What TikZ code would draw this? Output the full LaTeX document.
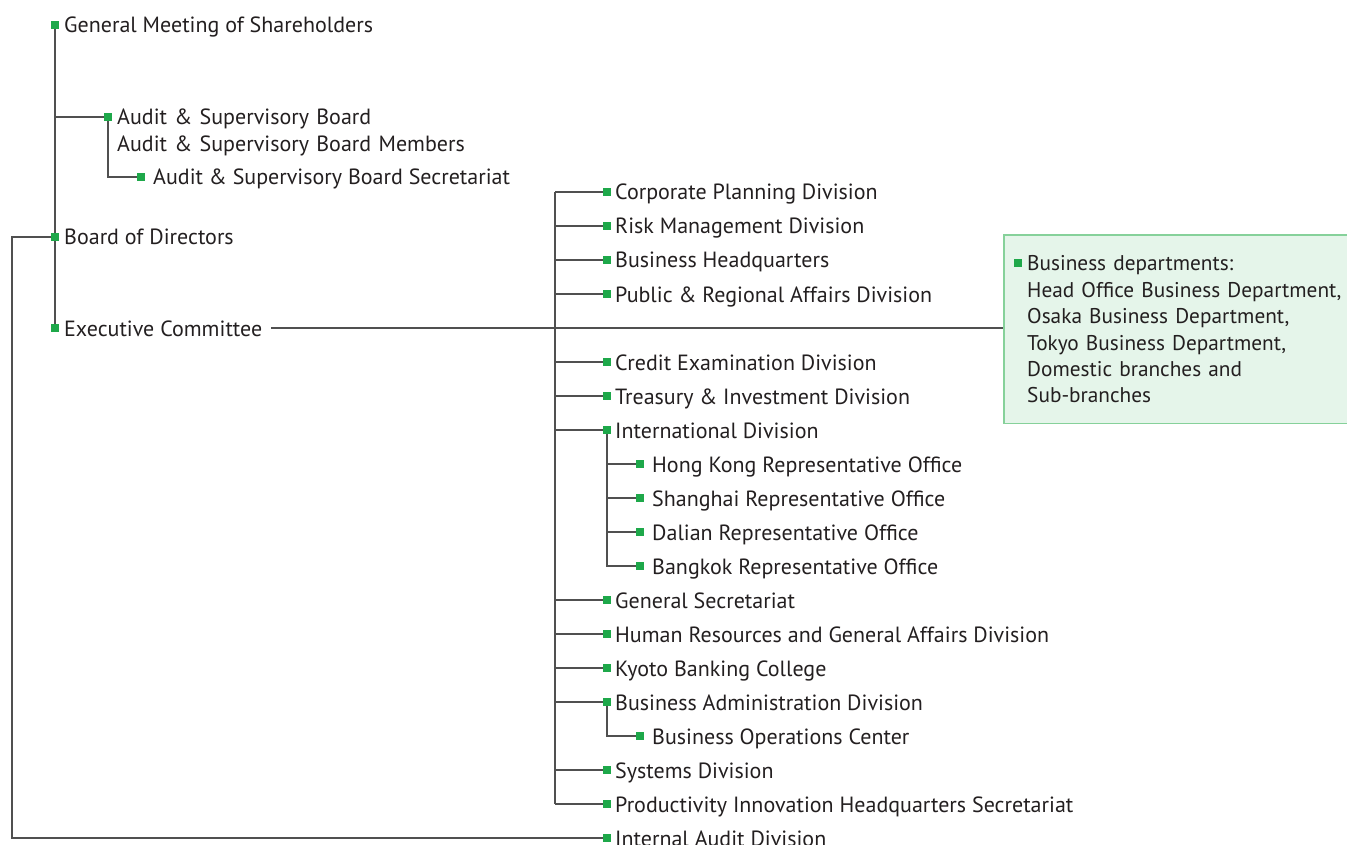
\documentclass[tikz,border=0pt]{standalone}
\usepackage{fontspec}
\setmainfont{PT Sans}
\usetikzlibrary{backgrounds}
\definecolor{sqgreen}{HTML}{1EA84A}
\definecolor{linegray}{HTML}{505050}
\definecolor{txt}{HTML}{231F20}
\definecolor{boxfill}{HTML}{E5F5EA}
\definecolor{boxline}{HTML}{86D19A}
\begin{document}
\begin{tikzpicture}[x=1pt,y=-1pt,
  sq/.style={fill=sqgreen,draw=none,minimum size=8.5pt,inner sep=0pt},
  lbl/.style={anchor=base west,inner sep=0pt,text=txt,font=\fontsize{22}{26.4}\selectfont},
  conn/.style={draw=linegray,line width=1.3pt}]
\useasboundingbox (0,0) rectangle (1347,845);
% box
\node[fill=boxfill,draw=none,anchor=north west,minimum width=350pt,minimum height=188pt,inner sep=0pt] (bx) at (1004,235) {};
\draw[boxline,line width=1.4pt] (bx.north east) -- (bx.north west) -- (bx.south west) -- (bx.south east);
\node[sq] (sBX) at (1018,263) {};
\node[lbl,text width=315pt,align=left,font=\fontsize{21.3}{26.4}\selectfont] (tBX) at (1027,271) {Business departments:\\Head Office Business Department,\\Osaka Business Department,\\Tokyo Business Department,\\Domestic branches and\\Sub-branches};
% left column
\node[sq] (sGM) at (55,25) {};
\node[lbl] (tGM) at (64,33) {General Meeting of Shareholders};
\node[sq] (sAB) at (108,117) {};
\node[lbl,text width=400pt,align=left] (tAB) at (117,125) {Audit \& Supervisory Board\\Audit \& Supervisory Board Members};
\node[sq] (sABS) at (141,177) {};
\node[lbl] (tABS) at (153,185) {Audit \& Supervisory Board Secretariat};
\node[sq] (sBD) at (55,237) {};
\node[lbl] (tBD) at (64,245) {Board of Directors};
\node[sq] (sEC) at (55,328) {};
\node[lbl] (tEC) at (64,336) {Executive Committee};
% divisions
\node[sq] (sCP) at (607,192) {};
\node[lbl] (tCP) at (615,200) {Corporate Planning Division};
\node[sq] (sRM) at (607,226) {};
\node[lbl] (tRM) at (615,234) {Risk Management Division};
\node[sq] (sBH) at (607,260) {};
\node[lbl] (tBH) at (615,268) {Business Headquarters};
\node[sq] (sPR) at (607,294) {};
\node[lbl] (tPR) at (615,302) {Public \& Regional Affairs Division};
\node[sq] (sCE) at (607,362) {};
\node[lbl] (tCE) at (615,370) {Credit Examination Division};
\node[sq] (sTI) at (607,396) {};
\node[lbl] (tTI) at (615,404) {Treasury \& Investment Division};
\node[sq] (sID) at (607,430) {};
\node[lbl] (tID) at (615,438) {International Division};
\node[sq] (sHK) at (640,464) {};
\node[lbl] (tHK) at (652,472) {Hong Kong Representative Office};
\node[sq] (sSH) at (640,498) {};
\node[lbl] (tSH) at (652,506) {Shanghai Representative Office};
\node[sq] (sDL) at (640,532) {};
\node[lbl] (tDL) at (652,540) {Dalian Representative Office};
\node[sq] (sBK) at (640,566) {};
\node[lbl] (tBK) at (652,574) {Bangkok Representative Office};
\node[sq] (sGS) at (607,600) {};
\node[lbl] (tGS) at (615,608) {General Secretariat};
\node[sq] (sHR) at (607,634) {};
\node[lbl] (tHR) at (615,642) {Human Resources and General Affairs Division};
\node[sq] (sKB) at (607,668) {};
\node[lbl] (tKB) at (615,676) {Kyoto Banking College};
\node[sq] (sBA) at (607,702) {};
\node[lbl] (tBA) at (615,710) {Business Administration Division};
\node[sq] (sBO) at (640,736) {};
\node[lbl] (tBO) at (652,744) {Business Operations Center};
\node[sq] (sSY) at (607,770) {};
\node[lbl] (tSY) at (615,778) {Systems Division};
\node[sq] (sPI) at (607,804) {};
\node[lbl] (tPI) at (615,812) {Productivity Innovation Headquarters Secretariat};
\node[sq] (sIA) at (607,838) {};
\node[lbl] (tIA) at (615,846) {Internal Audit Division};
\coordinate (trT) at (555,192);
\coordinate (trB) at (555,804);
\coordinate (lc) at (12,838);
\begin{scope}[on background layer]
\draw[conn] (sGM.center) -- (sEC.center);
\draw[conn] (sGM |- sAB) -- (sAB.center);
\draw[conn] (sAB.center) |- (sABS.center);
\draw[conn] (sBD.center) -| (lc) -- (sIA.center);
\draw[conn] ([xshift=9pt]tEC.east |- sEC) -- (bx.west |- sEC);
\draw[conn] (trT) -- (trB);
\foreach \s in {sCP,sRM,sBH,sPR,sCE,sTI,sID,sGS,sHR,sKB,sBA,sSY,sPI}
  \draw[conn] (\s.center) -- (\s -| trT);
\draw[conn] (sID.center) |- (sBK.center);
\foreach \s in {sHK,sSH,sDL}
  \draw[conn] (\s.center) -- (\s -| sID);
\draw[conn] (sBA.center) |- (sBO.center);
\end{scope}
\end{tikzpicture}
\end{document}
